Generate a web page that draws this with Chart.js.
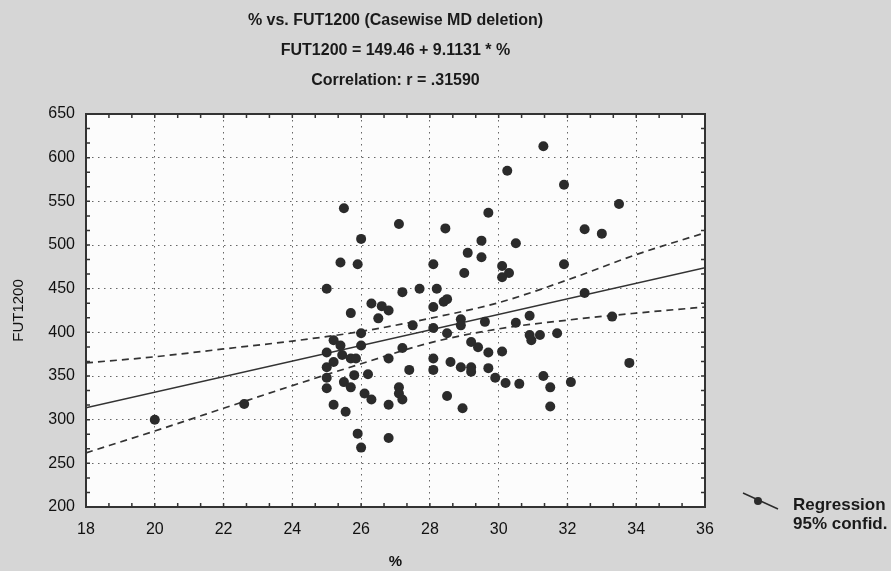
<!DOCTYPE html>
<html>
<head>
<meta charset="utf-8">
<script src="https://cdn.jsdelivr.net/npm/chart.js@4.4.1/dist/chart.umd.min.js"></script>
<style>
  html, body { margin: 0; padding: 0; background: #d6d6d6; }
  #wrap { width: 891px; height: 571px; }
</style>
</head>
<body>
<div id="wrap"><canvas id="chart" width="891" height="571"></canvas></div>
<script>
// % values (x) and FUT1200 values (y), one case per index
const pctValues = [
  20.0, 22.6, 25.0, 25.5, 25.4, 25.9, 26.0, 27.1, 28.45, 27.2,
  27.7, 28.2, 28.1, 29.0, 29.1, 29.5, 29.5, 29.7, 30.25, 31.3,
  30.5, 30.1, 30.3, 30.1, 26.3, 26.6, 26.8, 25.7, 26.5, 28.1,
  28.4, 28.5, 27.5, 28.1, 28.9, 29.6, 30.5, 30.9, 31.9, 33.5,
  32.5, 33.0, 31.9, 32.5, 33.3, 31.7, 31.2, 33.8, 31.3, 32.1,
  31.5, 31.5, 28.9, 28.5, 30.9, 30.95, 29.2, 29.4, 29.7, 30.1,
  28.6, 28.9, 29.2, 29.2, 29.7, 29.9, 30.2, 30.6, 28.5, 28.95,
  26.0, 25.2, 26.0, 25.4, 25.0, 25.45, 25.7, 25.2, 25.0, 25.85,
  27.2, 26.8, 28.1, 28.1, 27.4, 25.8, 26.2, 25.0, 25.5, 25.7,
  25.0, 27.1, 27.1, 26.1, 26.3, 27.2, 26.8, 25.2, 25.55, 25.9,
  26.8, 26.0
]
const futValues = [
  300, 318, 450, 542, 480, 478, 507, 524, 519, 446,
  450, 450, 478, 468, 491, 486, 505, 537, 585, 613,
  502, 476, 468, 463, 433, 430, 425, 422, 416, 429,
  435, 438, 408, 405, 415, 412, 411, 419, 569, 547,
  518, 513, 478, 445, 418, 399, 397, 365, 350, 343,
  337, 315, 408, 399, 397, 391, 389, 383, 377, 378,
  366, 360, 360, 355, 359, 348, 342, 341, 327, 313,
  399, 391, 385, 385, 377, 374, 370, 366, 360, 370,
  382, 370, 370, 357, 357, 351, 352, 348, 343, 337,
  336, 337, 330, 330, 323, 323, 317, 317, 309, 284,
  279, 268
]

// fitted line and 95% band, read at the x grid lines
const regressionX = [18, 36]
const regressionY = [313.5, 474]
const bandX = [18, 20, 22, 24, 26, 28, 30, 32, 34, 36]
const upperBand = [365, 372, 381, 390, 401, 416, 434, 460, 489, 514]
const lowerBand = [262, 287, 313, 339, 364, 388, 404, 414, 422, 429]

const xTicks = [18, 20, 22, 24, 26, 28, 30, 32, 34, 36]
const yTicks = [200, 250, 300, 350, 400, 450, 500, 550, 600, 650]

const titleLines = [
  '% vs. FUT1200 (Casewise MD deletion)',
  'FUT1200 = 149.46 + 9.1131 * %',
  'Correlation: r = .31590'
]
const legendLabels = ['Regression', '95% confid.']

const INK = '#2b2b2b'
const FONT = "'Liberation Sans', Arial, sans-serif"

const toPoints = (xs, ys) => xs.map((x, i) => ({ x, y: ys[i] }))

/**
 * Paper, frame, minor ticks, title block and the legend of the old
 * STATISTICA style plot
 */
const paperPlugin = {
  id: 'paper',
  beforeDraw (chart) {
    const { ctx, chartArea: a } = chart
    ctx.save()
    ctx.fillStyle = '#fcfcfc'
    ctx.fillRect(a.left, a.top, a.right - a.left, a.bottom - a.top)
    ctx.restore()
  },
  afterDraw (chart) {
    const { ctx, chartArea: a, scales } = chart
    ctx.save()

    // frame
    ctx.strokeStyle = '#333'
    ctx.lineWidth = 2
    ctx.strokeRect(a.left, a.top, a.right - a.left, a.bottom - a.top)

    // minor ticks, three per major step
    ctx.lineWidth = 1.5
    ctx.beginPath()
    for (let i = 1; i < 27; i++) {
      const px = scales.x.getPixelForValue(18 + i * 2 / 3)
      ctx.moveTo(px, a.top); ctx.lineTo(px, a.top + 4)
      ctx.moveTo(px, a.bottom); ctx.lineTo(px, a.bottom - 4)
    }
    for (let i = 1; i < 27; i++) {
      const py = scales.y.getPixelForValue(200 + i * 50 / 3)
      ctx.moveTo(a.left, py); ctx.lineTo(a.left + 4, py)
      ctx.moveTo(a.right, py); ctx.lineTo(a.right - 4, py)
    }
    ctx.stroke()

    // title block
    const cx = (a.left + a.right) / 2
    ctx.fillStyle = '#1a1a1a'
    ctx.textAlign = 'center'
    ctx.textBaseline = 'middle'
    ctx.font = 'bold 16px ' + FONT
    titleLines.forEach((line, i) => ctx.fillText(line, cx, 21 + i * 30))

    // legend
    ctx.strokeStyle = INK
    ctx.lineWidth = 1.5
    ctx.beginPath()
    ctx.moveTo(743, 493)
    ctx.lineTo(778, 509)
    ctx.stroke()
    ctx.fillStyle = INK
    ctx.beginPath()
    ctx.arc(758, 501, 4, 0, Math.PI * 2)
    ctx.fill()
    ctx.fillStyle = '#1a1a1a'
    ctx.textAlign = 'left'
    ctx.font = 'bold 17px ' + FONT
    legendLabels.forEach((label, i) => ctx.fillText(label, 793, 505 + i * 19))

    ctx.restore()
  }
}

const gridStyle = {
  color: '#666',
  lineWidth: 1,
  drawTicks: false
}

new Chart(document.getElementById('chart'), { // eslint-disable-line
  type: 'scatter',
  data: {
    datasets: [
      {
        label: 'cases',
        data: toPoints(pctValues, futValues),
        backgroundColor: INK,
        borderWidth: 0,
        pointRadius: 5,
        pointHoverRadius: 5
      },
      {
        label: 'Regression',
        data: toPoints(regressionX, regressionY),
        showLine: true,
        borderColor: '#333',
        borderWidth: 1.5,
        pointRadius: 0
      },
      {
        label: 'upper 95%',
        data: toPoints(bandX, upperBand),
        showLine: true,
        borderColor: '#333',
        borderWidth: 1.7,
        borderDash: [7, 5],
        cubicInterpolationMode: 'monotone',
        pointRadius: 0
      },
      {
        label: 'lower 95%',
        data: toPoints(bandX, lowerBand),
        showLine: true,
        borderColor: '#333',
        borderWidth: 1.7,
        borderDash: [7, 5],
        cubicInterpolationMode: 'monotone',
        pointRadius: 0
      }
    ]
  },
  options: {
    responsive: false,
    animation: false,
    events: [],
    layout: {
      padding: { top: 114, right: 186, bottom: 0, left: 0 }
    },
    plugins: {
      legend: { display: false },
      tooltip: { enabled: false }
    },
    scales: {
      x: {
        type: 'linear',
        min: 18,
        max: 36,
        afterBuildTicks: (scale) => { scale.ticks = xTicks.map(v => ({ value: v })) },
        afterFit: (scale) => { scale.height = 64 },
        grid: gridStyle,
        border: { display: false, dash: [1.5, 4.5] },
        ticks: {
          color: '#111',
          padding: 13,
          maxRotation: 0,
          font: { family: FONT, size: 16 }
        },
        title: {
          display: true,
          text: '%',
          color: '#111',
          padding: { top: 0, bottom: 0 },
          font: { family: FONT, size: 15, weight: 'bold' }
        }
      },
      y: {
        type: 'linear',
        min: 200,
        max: 650,
        afterBuildTicks: (scale) => { scale.ticks = yTicks.map(v => ({ value: v })) },
        afterFit: (scale) => { scale.width = 86 },
        grid: gridStyle,
        border: { display: false, dash: [1.5, 4.5] },
        ticks: {
          color: '#111',
          padding: 11,
          font: { family: FONT, size: 16 }
        },
        title: {
          display: true,
          text: 'FUT1200',
          color: '#111',
          padding: { top: 10, bottom: 0 },
          font: { family: FONT, size: 15 }
        }
      }
    }
  },
  plugins: [paperPlugin]
})
</script>
</body>
</html>
